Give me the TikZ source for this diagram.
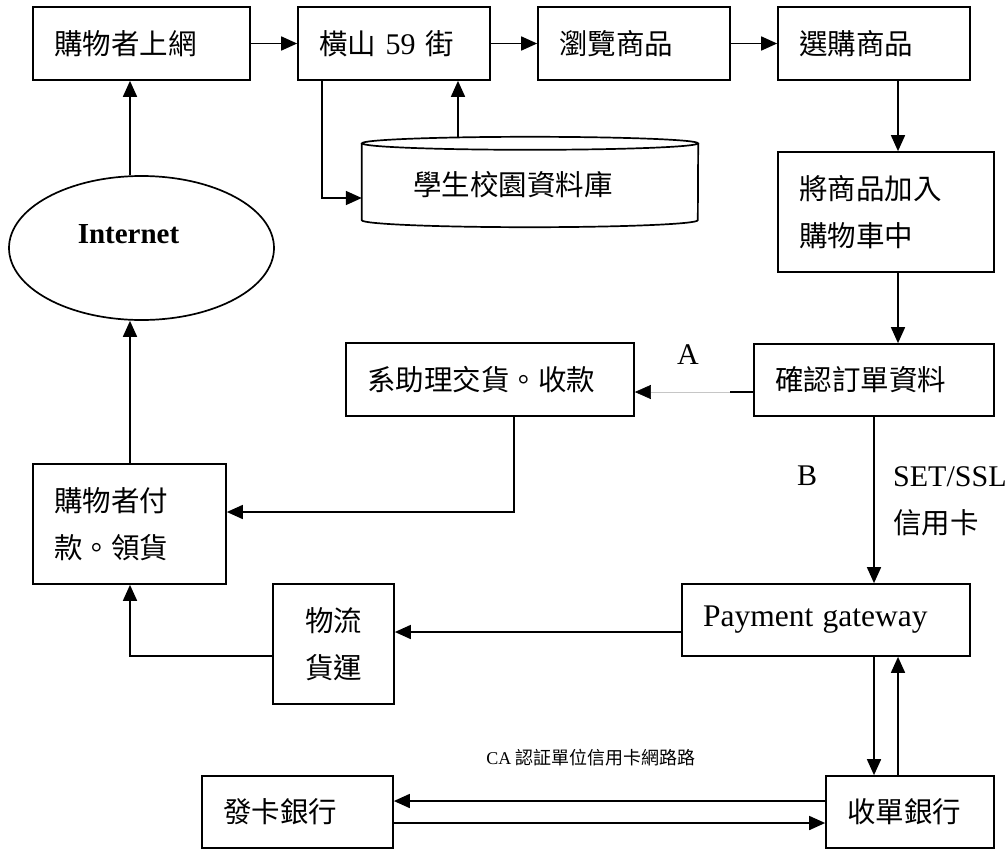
\documentclass[tikz,border=0pt]{standalone}
\usepackage{fontspec}
\setmainfont{Liberation Serif}
\newfontfamily\cjk{Noto Sans CJK TC}
\usepackage{tikz}
\usetikzlibrary{arrows.meta,shapes.geometric}
\newcommand\lat[1]{{\rmfamily\fontsize{30}{47}\selectfont #1}}
\tikzset{
  box/.style={draw, line width=1.7pt, rectangle, inner xsep=21pt, inner ysep=2pt, align=left, font=\cjk\fontsize{28.5}{47}\selectfont},
  arr/.style={line width=1.7pt, -{Triangle[length=16pt,width=14pt]}},
  lbl/.style={font=\fontsize{30}{36}\selectfont}
}

\begin{document}
\begin{tikzpicture}[x=1pt,y=-1pt]
\useasboundingbox (0,0) rectangle (1006,849);
\node[box, text width=175pt, minimum height=73pt] (shop) at (141.5,43.5) {購物者上網};
\node[box, text width=150pt, minimum height=73pt] (street) at (394,43.5) {橫山 \lat{59} 街};
\node[box, text width=150pt, minimum height=73pt] (browse) at (634,43.5) {瀏覽商品};
\node[box, text width=150pt, minimum height=73pt] (pick) at (874,43.5) {選購商品};
\node[box, text width=174pt, minimum height=120pt] (cart) at (886,212) {將商品加入\\購物車中};
\node[box, text width=198pt, minimum height=72pt] (confirm) at (874,380) {確認訂單資料};
\node[box, text width=246pt, minimum height=73pt] (assist) at (490,379.5) {系助理交貨。收款};
\node[box, text width=151pt, minimum height=120pt] (pay) at (129.5,524) {購物者付\\款。領貨};
\node[box, text width=79pt, minimum height=120pt, align=center] (logis) at (333.5,644) {物流\\貨運};
\node[box, text width=246pt, minimum height=72pt] (gate) at (826,620) {{\rmfamily\fontsize{31.5}{47}\selectfont Payment gateway}};
\node[box, text width=149pt, minimum height=72pt] (issuer) at (297.5,812) {發卡銀行};
\node[box, text width=126pt, minimum height=72pt] (acq) at (910,812) {收單銀行};
\node[draw, ellipse, line width=1.7pt, minimum width=265pt, minimum height=144pt,
  label={[font=\bfseries\fontsize{29}{36}\selectfont, xshift=-13pt, yshift=14pt]center:Internet}] (net) at (141.5,248) {};
% database cylinder
\node[font=\cjk\fontsize{28.5}{36}\selectfont, inner xsep=51pt, inner ysep=0pt, text width=234pt, align=left,
  minimum height=76.5pt, yshift=-3pt] (db) at (530,181.75) {學生校園資料庫};
\coordinate (dbnw) at ([yshift=3pt]db.north west);
\coordinate (dbne) at ([yshift=3pt]db.north east);
\coordinate (dbsw) at ([yshift=3pt]db.south west);
\coordinate (dbtop) at ([yshift=9.5pt]db.north);
\draw[line width=1.7pt] ([yshift=3pt]db.north) ellipse [x radius=168pt, y radius=6.5pt];
\draw[line width=1.7pt] (dbnw) -- (dbsw) arc[start angle=180, end angle=360, x radius=168pt, y radius=7pt] -- (dbne);

\coordinate (c130) at (130,0);
\coordinate (c322) at (322,0);
\coordinate (c458) at (458,0);
\coordinate (c514) at (514,0);
\coordinate (c874) at (874,0);
\coordinate (c898) at (898,0);
\coordinate (r198) at (0,198);
\coordinate (r392) at (0,392);
\coordinate (r512) at (0,512);
\coordinate (r632) at (0,632);
\coordinate (r656) at (0,656);
\coordinate (r801) at (0,801);
\coordinate (r823) at (0,823);

\draw[arr] (shop) -- (street);
\draw[arr] (street) -- (browse);
\draw[arr] (browse) -- (pick);
\draw[arr] (pick.south -| c898) -- (cart.north -| c898);
\draw[arr] (cart.south -| c898) -- (confirm.north -| c898);
\draw[arr] (confirm) -- (gate.north -| confirm);
\draw[arr] (street.south -| c322) |- (dbnw |- r198);
\draw[arr] (dbtop -| c458) -- (street.south -| c458);
\draw[arr] (net.north -| c130) -- (shop.south -| c130);
\draw[arr] (pay.north -| c130) -- (net.south -| c130);
\draw[arr] (assist.south -| c514) |- (pay.east |- r512);
\draw[arr] (logis.west |- r656) -| (pay.south -| c130);
\draw[arr] (gate.west |- r632) -- (logis.east |- r632);
\draw[arr] (gate.south -| c874) -- (acq.north -| c874);
\draw[arr] (acq.north -| c898) -- (gate.south -| c898);
\draw[arr] (acq.west |- r801) -- (issuer.east |- r801);
\draw[arr] (issuer.east |- r823) -- (acq.west |- r823);
\draw[line width=0.6pt, draw=gray!45, -{Triangle[length=16pt,width=14pt,color=black]}] (confirm.west |- r392) -- (assist.east |- r392);
\draw[line width=1.7pt] (confirm.west |- r392) -- ++(-23,0);

\node[lbl] (labA) at (688,355) {A};
\node[lbl] (labB) at (807,476) {B};
\node[lbl, anchor=west, inner sep=0pt] (labSet) at (893,477) {SET/SSL};
\node[anchor=west, inner sep=0pt, font=\cjk\fontsize{28.5}{36}\selectfont] (labCard) at (893,523) {信用卡};
\node[font=\cjk\fontsize{18}{22}\selectfont] (labCA) at (591,758) {{\rmfamily CA} 認証單位信用卡網路路};
\end{tikzpicture}
\end{document}
